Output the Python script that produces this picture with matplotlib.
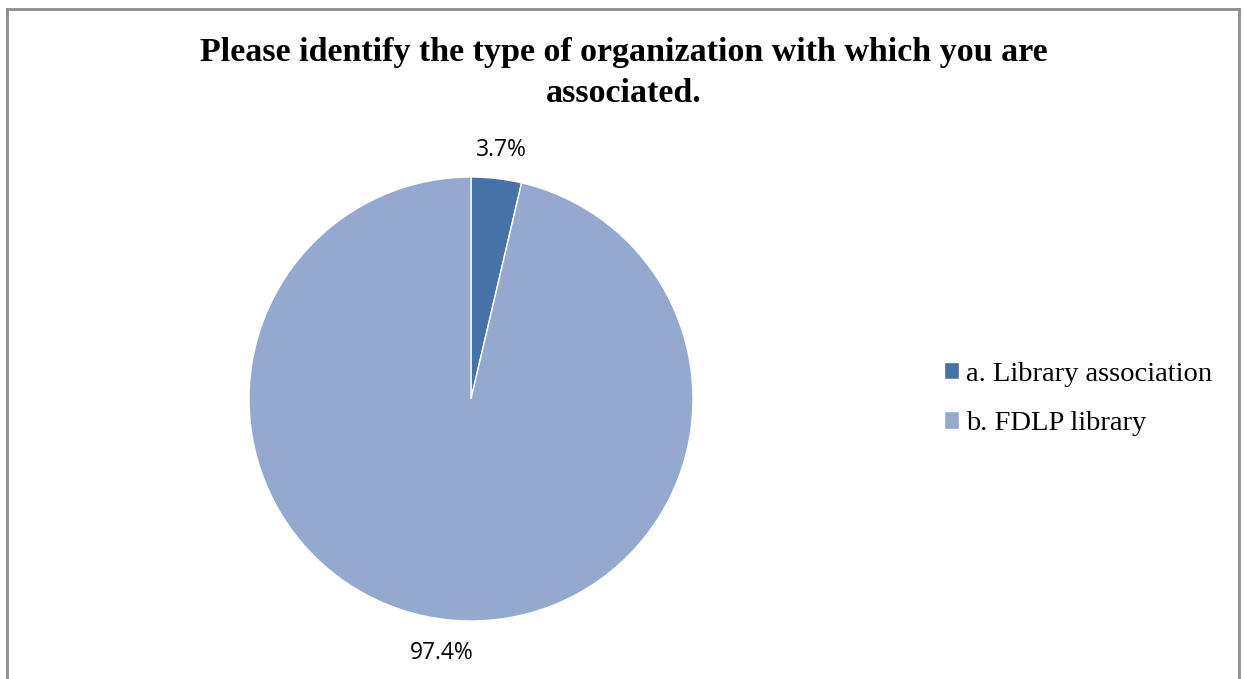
import matplotlib.pyplot as plt
from matplotlib.lines import Line2D

categories = ['a. Library association', 'b. FDLP library']
values = [3.7, 97.4]
colors = ['#4572A7', '#95A9CF']
title = 'Please identify the type of organization with which you are\nassociated.'

fig = plt.figure(figsize=(12.44, 6.79), dpi=100)
fig.patch.set_facecolor('white')

# outer chart frame (no bottom edge in the reference)
fc = '#8c8c8c'
fig.add_artist(Line2D([7/1244, 7/1244], [-0.01, 1 - 9/679], color=fc, lw=2))
fig.add_artist(Line2D([7/1244, 1239/1244], [1 - 9/679, 1 - 9/679], color=fc, lw=2))
fig.add_artist(Line2D([1239/1244, 1239/1244], [-0.01, 1 - 9/679], color=fc, lw=2))

ax = fig.add_axes([249/1244, 58/679, 444/1244, 444/679])
wedges, texts = ax.pie(values, colors=colors, startangle=90, counterclock=False,
                       labels=[f'{v}%' for v in values], labeldistance=1.15,
                       wedgeprops=dict(edgecolor='white', linewidth=1),
                       textprops=dict(fontsize=16.5, family='Open Sans', color='black'))
for t in texts:
    t.set_horizontalalignment('center')
    t.set_verticalalignment('center')
# small slice label sits a bit closer in the reference
x0, y0 = texts[0].get_position()
texts[0].set_position((x0 * 1.05, y0 * 0.98))
ax.set_aspect('equal')
ax.set_xlim(-1, 1)
ax.set_ylim(-1, 1)

fig.text(624/1244, 1 - 73/679, title, ha='center', va='center', fontsize=24.5,
         fontweight='bold', family='Liberation Serif', linespacing=1.45)

leg = fig.legend(wedges, categories, loc='center left', bbox_to_anchor=(918/1244, 1 - 399/679),
                 frameon=False, prop=dict(family='Liberation Serif', size=20.5),
                 handlelength=0.55, handleheight=0.55, handletextpad=0.25, labelspacing=0.85)

fig.savefig('out.png', dpi=100)
